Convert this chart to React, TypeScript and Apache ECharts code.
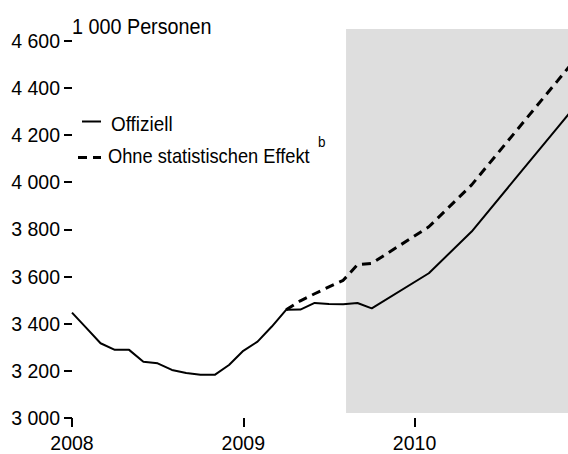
import React, { useEffect, useRef } from "react";
import * as echarts from "echarts";

// Month index: 0 = January 2008
const officialMonths = [0, 1, 2, 3, 4, 5, 6, 7, 8, 9, 10, 11, 12, 13, 14, 15, 16, 17, 18, 19, 20, 21, 25, 28, 31, 34, 35];
const officialValues = [3447, 3382, 3317, 3289, 3289, 3239, 3232, 3204, 3191, 3183, 3183, 3225, 3285, 3324, 3388, 3459, 3460, 3488, 3484, 3483, 3488, 3465, 3614, 3791, 4011, 4231, 4304];

const adjustedMonths = [15, 16, 17, 18, 19, 20, 21, 25, 28, 31, 34, 35];
const adjustedValues = [3459, 3497, 3527, 3556, 3584, 3650, 3656, 3811, 3989, 4209, 4429, 4503];

const yTicks = [3000, 3200, 3400, 3600, 3800, 4000, 4200, 4400, 4600];
const xTicks = [0, 12, 24];
const xTickLabels = ["2008", "2009", "2010"];

const forecastStart = 19.2;
const xMax = 34.75;
const yMin = 3000;
const yMax = 4650;
const shadeBottom = 3021;

const seriesNames = ["Offiziell", "Ohne statistischen Effekt"];
const unitLabel = "1 000 Personen";
const footnoteMark = "b";

const FONT = "'Liberation Sans', Arial, Helvetica, sans-serif";

function fmtThousands(v: number): string {
  const s = String(Math.round(v));
  return s.replace(/\B(?=(\d{3})+(?!\d))/g, " ");
}

export default function App() {
  const ref = useRef<HTMLDivElement>(null);

  useEffect(() => {
    document.body.style.margin = "0";
    if (!ref.current) return;
    const chart = echarts.init(ref.current, null, { renderer: "svg" });

    const official = officialMonths.map((m, i) => [m, officialValues[i]]);
    const adjusted = adjustedMonths.map((m, i) => [m, adjustedValues[i]]);

    chart.setOption({
      animation: false,
      backgroundColor: "#ffffff",
      textStyle: { fontFamily: FONT, color: "#000" },
      grid: { left: 72, right: 0, top: 29, bottom: 36, containLabel: false },
      xAxis: {
        type: "value",
        min: 0,
        max: xMax,
        interval: 12,
        axisLine: { show: false },
        splitLine: { show: false },
        axisTick: {
          show: true,
          length: 9,
          customValues: xTicks,
          lineStyle: { color: "#000", width: 2 },
        },
        axisLabel: {
          customValues: xTicks,
          margin: 15,
          fontSize: 19.5,
          fontFamily: FONT,
          color: "#000",
          formatter: (v: number) => xTickLabels[xTicks.indexOf(Math.round(v))] ?? "",
        },
      },
      yAxis: {
        type: "value",
        min: yMin,
        max: yMax,
        interval: 200,
        axisLine: { show: false },
        splitLine: { show: false },
        axisTick: {
          show: true,
          length: 8,
          customValues: yTicks,
          lineStyle: { color: "#000", width: 2 },
        },
        axisLabel: {
          customValues: yTicks,
          margin: 12,
          fontSize: 19.5,
          fontFamily: FONT,
          color: "#000",
          formatter: (v: number) => fmtThousands(v),
        },
      },
      series: [
        {
          type: "line",
          name: "shade",
          data: [],
          z: 1,
          silent: true,
          markArea: {
            silent: true,
            itemStyle: { color: "#dedede" },
            data: [[{ xAxis: forecastStart, yAxis: shadeBottom }, { xAxis: xMax, yAxis: yMax }]],
          },
        },
        {
          type: "line",
          name: seriesNames[0],
          data: official,
          z: 3,
          symbol: "none",
          clip: true,
          lineStyle: { color: "#000", width: 2 },
        },
        {
          type: "line",
          name: seriesNames[1],
          data: adjusted,
          z: 3,
          symbol: "none",
          clip: true,
          lineStyle: { color: "#000", width: 3, type: [9, 6] },
        },
      ],
      graphic: [
        {
          type: "text",
          x: 72,
          y: 26,
          scaleX: 0.92,
          style: { text: unitLabel, fontSize: 21.5, fontFamily: FONT, fill: "#000", verticalAlign: "middle" },
        },
        {
          type: "line",
          shape: { x1: 82, y1: 121.5, x2: 101, y2: 121.5 },
          style: { stroke: "#000", lineWidth: 2 },
        },
        {
          type: "text",
          x: 111,
          y: 124,
          scaleX: 0.9,
          style: { text: seriesNames[0], fontSize: 21, fontFamily: FONT, fill: "#000", verticalAlign: "middle" },
        },
        {
          type: "line",
          shape: { x1: 78, y1: 157.5, x2: 101, y2: 157.5 },
          style: { stroke: "#000", lineWidth: 3, lineDash: [9, 6] },
        },
        {
          type: "text",
          x: 108,
          y: 156,
          scaleX: 0.87,
          style: { text: seriesNames[1], fontSize: 21, fontFamily: FONT, fill: "#000", verticalAlign: "middle" },
        },
        {
          type: "text",
          x: 318,
          y: 142,
          scaleX: 0.9,
          style: { text: footnoteMark, fontSize: 15, fontFamily: FONT, fill: "#000", verticalAlign: "middle" },
        },
      ],
    });

    return () => chart.dispose();
  }, []);

  return <div ref={ref} style={{ width: 568, height: 454 }} />;
}
